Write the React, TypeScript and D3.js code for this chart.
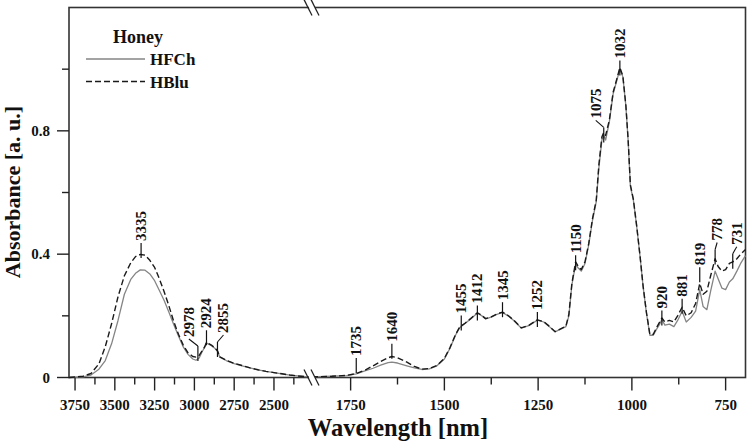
import React, { useEffect, useRef } from "react";
import * as d3 from "d3";

// wavenumbers (left part of the broken axis, before the break)
const waveLeft = [
  3788, 3700, 3650, 3600, 3560, 3520, 3480, 3440, 3400, 3370, 3340, 3310, 3280, 3250, 3220,
  3190, 3160, 3130, 3100, 3070, 3040, 3010, 2990, 2970, 2950, 2935, 2924, 2910, 2890, 2870,
  2855, 2840, 2800, 2750, 2700, 2650, 2600, 2550, 2500, 2450, 2400, 2350, 2300, 2261,
];
const hfchLeft = [
  0, 0.002, 0.008, 0.027, 0.055, 0.11, 0.185, 0.27, 0.318, 0.338, 0.349, 0.348, 0.336, 0.314, 0.282,
  0.25, 0.212, 0.172, 0.135, 0.099, 0.075, 0.06, 0.056, 0.063, 0.085, 0.098, 0.112, 0.108, 0.102, 0.094,
  0.085, 0.066, 0.055, 0.045, 0.038, 0.031, 0.025, 0.02, 0.016, 0.012, 0.008, 0.005, 0.003, 0.002,
];
const hbluLeft = [
  0, 0.004, 0.013, 0.044, 0.1, 0.175, 0.262, 0.33, 0.372, 0.392, 0.399, 0.397, 0.38, 0.357, 0.32,
  0.278, 0.232, 0.182, 0.14, 0.105, 0.08, 0.068, 0.066, 0.072, 0.088, 0.1, 0.114, 0.11, 0.104, 0.095,
  0.087, 0.067, 0.056, 0.046, 0.039, 0.031, 0.025, 0.02, 0.016, 0.012, 0.008, 0.005, 0.003, 0.002,
];

// wavenumbers (right part, after the break)
const waveRight = [
  1853, 1800, 1760, 1735, 1710, 1690, 1670, 1650, 1640, 1625, 1600, 1580, 1560, 1540, 1520,
  1500, 1485, 1470, 1460, 1455, 1445, 1430, 1412, 1400, 1390, 1375, 1360, 1345, 1330, 1315,
  1295, 1275, 1252, 1235, 1220, 1205, 1190, 1176, 1168, 1160, 1150, 1143, 1135, 1125, 1115,
  1105, 1095, 1088, 1080, 1075, 1070, 1060, 1050, 1042, 1032, 1024, 1016, 1010, 1004, 996,
  987, 978, 970, 961, 952, 943, 934, 925, 920, 912, 900, 888, 878, 866, 855,
  842, 830, 819, 810, 800, 790, 778, 770, 760, 750, 740, 731, 720, 710, 697,
];
const hfchRight = [
  0.002, 0.004, 0.006, 0.012, 0.022, 0.03, 0.04, 0.048, 0.05, 0.047, 0.038, 0.031, 0.026, 0.028, 0.038,
  0.06, 0.095, 0.138, 0.16, 0.166, 0.175, 0.19, 0.209, 0.2, 0.19, 0.196, 0.205, 0.211, 0.2, 0.185,
  0.16, 0.168, 0.186, 0.18, 0.165, 0.148, 0.157, 0.165, 0.2, 0.3, 0.368, 0.355, 0.345, 0.37, 0.43,
  0.51, 0.57, 0.68, 0.77, 0.785, 0.77, 0.83, 0.92, 0.955, 1.0, 0.975, 0.88, 0.77, 0.62, 0.575,
  0.488, 0.39, 0.294, 0.207, 0.137, 0.137, 0.157, 0.175, 0.188, 0.17, 0.173, 0.165, 0.185, 0.215, 0.18,
  0.195, 0.215, 0.285, 0.23, 0.22, 0.28, 0.345, 0.32, 0.29, 0.285, 0.31, 0.32, 0.345, 0.37, 0.395,
];
const hbluRight = [
  0.002, 0.004, 0.007, 0.013, 0.025, 0.038, 0.052, 0.064, 0.068, 0.064, 0.05, 0.036, 0.027, 0.029, 0.039,
  0.062, 0.097, 0.14, 0.162, 0.167, 0.176, 0.191, 0.21, 0.201, 0.191, 0.197, 0.206, 0.212, 0.201, 0.186,
  0.161, 0.169, 0.187, 0.181, 0.166, 0.149, 0.158, 0.166, 0.205, 0.305, 0.375, 0.36, 0.35, 0.375, 0.435,
  0.515, 0.575, 0.69, 0.78, 0.795, 0.785, 0.835, 0.925, 0.96, 1.005, 0.978, 0.882, 0.772, 0.625, 0.578,
  0.49, 0.392, 0.296, 0.21, 0.14, 0.14, 0.162, 0.182, 0.193, 0.18, 0.185, 0.18, 0.2, 0.228, 0.2,
  0.21, 0.24, 0.305, 0.27, 0.28, 0.33, 0.385, 0.36, 0.345, 0.35, 0.37, 0.375, 0.385, 0.4, 0.415,
];

// axis ticks
const leftMajor = [3750, 3500, 3250, 3000, 2750, 2500];
const leftMinor = [3625, 3375, 3125, 2875, 2625, 2375];
const rightMajor = [1750, 1500, 1250, 1000, 750];
const rightMinor = [1625, 1375, 1125, 875];
const yMajor = [0, 0.4, 0.8];
const yMinor = [0.2, 0.6, 1.0];

// peak labels: text, wavenumber where the marker sits, absorbance of the marker
const peakLabels = ["3335", "2978", "2924", "2855", "1735", "1640", "1455", "1412", "1345", "1252", "1150", "1075", "1032", "920", "881", "819", "778", "731"];
const peakWave = [3335, 2978, 2924, 2855, 1735, 1640, 1455, 1412, 1345, 1252, 1150, 1075, 1032, 920, 866, 819, 778, 731];
const peakAbs = [0.407, 0.073, 0.124, 0.086, 0.034, 0.08, 0.172, 0.204, 0.215, 0.183, 0.367, 0.782, 0.999, 0.188, 0.226, 0.328, 0.386, 0.372];

const legendItems = ["HFCh", "HBlu"];

export default function App() {
  const ref = useRef<SVGSVGElement | null>(null);

  useEffect(() => {
    const svg = d3.select(ref.current);
    svg.selectAll("*").remove();

    const font = "'Liberation Serif', 'Times New Roman', serif";
    const left = 69, right = 745.5, top = 7.5, bottom = 377.5, brk = 312;

    const xL = d3.scaleLinear().domain([3788, 2261]).range([left, brk]);
    const xR = d3.scaleLinear().domain([1853, 697]).range([brk, right]);
    const y = d3.scaleLinear().domain([0, 1.2]).range([bottom, top]);
    const xAny = (w: number) => (w > 2000 ? xL(w) : xR(w));

    // frame
    svg.append("rect")
      .attr("x", left).attr("y", top)
      .attr("width", right - left).attr("height", bottom - top)
      .attr("fill", "none").attr("stroke", "#333").attr("stroke-width", 1.6);

    // curves
    const lineL = d3.line<number>().x((d, i) => xL(waveLeft[i])).y((d) => y(d));
    const lineR = d3.line<number>().x((d, i) => xR(waveRight[i])).y((d) => y(d));
    const series = [
      { l: hfchLeft, r: hfchRight, color: "#858585", dash: null, w: 1.3 },
      { l: hbluLeft, r: hbluRight, color: "#1a1a1a", dash: "6,3", w: 1.4 },
    ];
    series.forEach((s) => {
      [lineL(s.l), lineR(s.r)].forEach((p) => {
        svg.append("path").attr("d", p)
          .attr("fill", "none").attr("stroke", s.color)
          .attr("stroke-width", s.w).attr("stroke-dasharray", s.dash)
          .attr("stroke-linejoin", "round");
      });
    });

    // axis break marks (bottom axis and top border)
    [bottom, top].forEach((yy) => {
      svg.append("polygon")
        .attr("points", `${brk - 4},${yy - 3} ${brk + 2},${yy - 3} ${brk + 4},${yy + 3} ${brk - 2},${yy + 3}`)
        .attr("fill", "white");
      [-4, 3].forEach((o) => {
        svg.append("line")
          .attr("x1", brk + o - 4).attr("y1", yy - 8)
          .attr("x2", brk + o + 4).attr("y2", yy + 8)
          .attr("stroke", "#222").attr("stroke-width", 1.3);
      });
    });

    // x ticks
    const xt = svg.append("g").attr("stroke", "#222").attr("stroke-width", 1.4);
    leftMajor.map(xL).concat(rightMajor.map(xR)).forEach((x) => {
      xt.append("line").attr("x1", x).attr("x2", x).attr("y1", bottom).attr("y2", bottom + 13);
    });
    leftMinor.map(xL).concat(rightMinor.map(xR)).forEach((x) => {
      xt.append("line").attr("x1", x).attr("x2", x).attr("y1", bottom).attr("y2", bottom + 7);
    });
    const xLabels = leftMajor.map((w) => ({ w, x: xL(w) })).concat(rightMajor.map((w) => ({ w, x: xR(w) })));
    svg.append("g").selectAll("text").data(xLabels).enter().append("text")
      .attr("x", (d) => d.x).attr("y", 410)
      .attr("text-anchor", "middle")
      .attr("font-family", font).attr("font-weight", "bold").attr("font-size", 15)
      .attr("fill", "#111")
      .text((d) => String(d.w));

    // y ticks
    yMajor.forEach((v) => {
      xt.append("line").attr("x1", left - 12).attr("x2", left).attr("y1", y(v)).attr("y2", y(v));
      svg.append("text")
        .attr("x", 50).attr("y", y(v) + 5)
        .attr("text-anchor", "end")
        .attr("font-family", font).attr("font-weight", "bold").attr("font-size", 15)
        .attr("fill", "#111")
        .text(v === 0 ? "0" : v.toFixed(1));
    });
    yMinor.forEach((v) => {
      xt.append("line").attr("x1", left - 7).attr("x2", left).attr("y1", y(v)).attr("y2", y(v));
    });

    // axis titles
    svg.append("text")
      .attr("x", 398).attr("y", 436)
      .attr("text-anchor", "middle")
      .attr("font-family", font).attr("font-weight", "bold").attr("font-size", 24.5)
      .attr("fill", "#111")
      .text("Wavelength [nm]");
    svg.append("text")
      .attr("transform", "translate(20,192) rotate(-90)")
      .attr("text-anchor", "middle")
      .attr("font-family", font).attr("font-weight", "bold").attr("font-size", 22)
      .attr("fill", "#111")
      .text("Absorbance [a. u.]");

    // peak markers
    const leaderShift: Record<string, number> = { "2978": -9, "2855": 6, "1075": -8, "778": 2, "731": 4 };
    const pk = svg.append("g");
    peakLabels.forEach((lab, i) => {
      const x = xAny(peakWave[i]);
      const yy = y(peakAbs[i]);
      const dx = leaderShift[lab];
      pk.append("line")
        .attr("x1", x).attr("x2", x).attr("y1", yy + 6).attr("y2", yy - 9)
        .attr("stroke", "#111").attr("stroke-width", 1.2);
      let tx = x, ty = yy - 11;
      if (dx !== undefined) {
        pk.append("line")
          .attr("x1", x).attr("y1", yy - 9)
          .attr("x2", x + dx).attr("y2", yy - 16)
          .attr("stroke", "#111").attr("stroke-width", 1.1);
        tx = x + dx;
        ty = yy - 18;
      }
      pk.append("text")
        .attr("transform", `translate(${tx + 5},${ty}) rotate(-90)`)
        .attr("font-family", font).attr("font-weight", "bold").attr("font-size", 15)
        .attr("fill", "#111")
        .text(lab);
    });

    // legend
    svg.append("text")
      .attr("x", 113).attr("y", 43)
      .attr("font-family", font).attr("font-weight", "bold").attr("font-size", 18)
      .attr("fill", "#111")
      .text("Honey");
    legendItems.forEach((name, i) => {
      const s = series[i];
      const ly = 59 + i * 22.5;
      svg.append("line")
        .attr("x1", 86).attr("x2", 145).attr("y1", ly).attr("y2", ly)
        .attr("stroke", s.color).attr("stroke-width", s.w).attr("stroke-dasharray", s.dash);
      svg.append("text")
        .attr("x", 150).attr("y", ly + 6)
        .attr("font-family", font).attr("font-weight", "bold").attr("font-size", 17)
        .attr("fill", "#111")
        .text(name);
    });
  }, []);

  return (
    <div style={{ position: "absolute", left: 0, top: 0 }}>
      <svg ref={ref} width={749} height={443} style={{ display: "block", background: "white" }} />
    </div>
  );
}
